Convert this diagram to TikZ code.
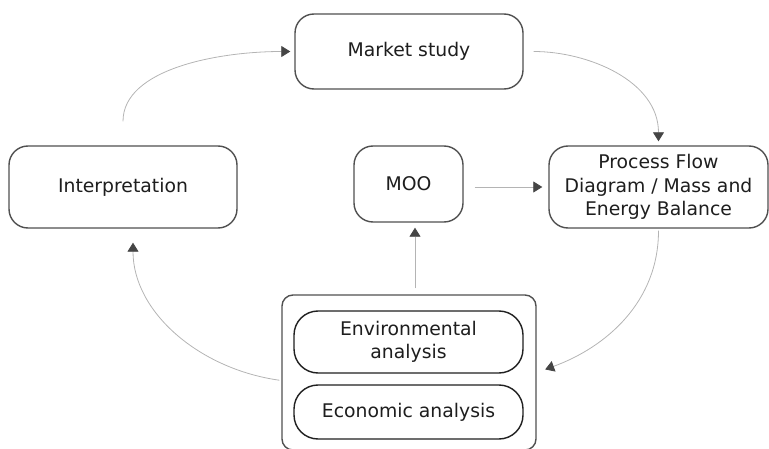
\documentclass[tikz,border=0pt]{standalone}
\usepackage{fontspec}
\setmainfont{DejaVu Sans}
\usetikzlibrary{arrows.meta}
\definecolor{boxline}{HTML}{505050}
\definecolor{innerline}{HTML}{202020}
\definecolor{linkline}{HTML}{B4B4B4}
\definecolor{tipcol}{HTML}{454545}
\definecolor{txt}{HTML}{1E1E1E}
\begin{document}
\begin{tikzpicture}[x=1pt,y=1pt,
  stage/.style={draw=boxline, line width=1.4pt, rounded corners=19pt, fill=white,
    text=txt, align=center, inner sep=0pt, font=\fontsize{18.8}{23.5}\selectfont},
  sub/.style={stage, draw=innerline, rounded corners=24pt},
  group/.style={draw=boxline, line width=1.4pt, rounded corners=11pt},
  link/.style={draw=linkline, line width=0.8pt,
    -{Triangle[length=9pt,width=11pt,color=tipcol]}}]
\useasboundingbox (0,0) rectangle (769,448);
\clip (0,0) rectangle (769,448);

% stages of the cycle
\node[stage, minimum width=228pt, minimum height=75pt] (market) at (409,396.5) {Market study};
\node[stage, minimum width=228pt, minimum height=82pt] (interp) at (123,261) {Interpretation};
\node[stage, minimum width=109pt, minimum height=76pt] (moo) at (408.5,264) {MOO};
\node[stage, minimum width=219pt, minimum height=82pt] (pfd) at (658.5,261)
  {Process Flow\\Diagram / Mass and\\Energy Balance};

% analysis group
\node[group, minimum width=254pt, minimum height=155pt] (grp) at (409,75.5) {};
\node[sub, minimum width=229pt, minimum height=62pt] (env) at (408.5,106) {Environmental\\analysis};
\node[sub, minimum width=229pt, minimum height=54pt] (eco) at (408.5,36) {Economic analysis};

% connectors
\draw[link, shorten <=24pt, shorten >=4pt] (interp.north) to[out=90,in=180] (market.west);
\draw[link, shorten <=10pt, shorten >=4pt] (market.east) to[out=0,in=90] (pfd.north);
\draw[link, shorten <=11pt, shorten >=6pt] (moo.east |- pfd.west) -- (pfd.west);
\draw[link, shorten <=6pt, shorten >=5pt] ([xshift=6pt]grp.north) -- ([xshift=6pt]grp.north |- moo.south);
\draw[link, shorten <=2pt, shorten >=9pt] (pfd.south) to[out=-90,in=20] (grp.east);
\draw[link, shorten <=2pt, shorten >=14pt] ([yshift=-8pt]grp.west) to[out=172,in=-90] ([xshift=10pt]interp.south);
\end{tikzpicture}
\end{document}
